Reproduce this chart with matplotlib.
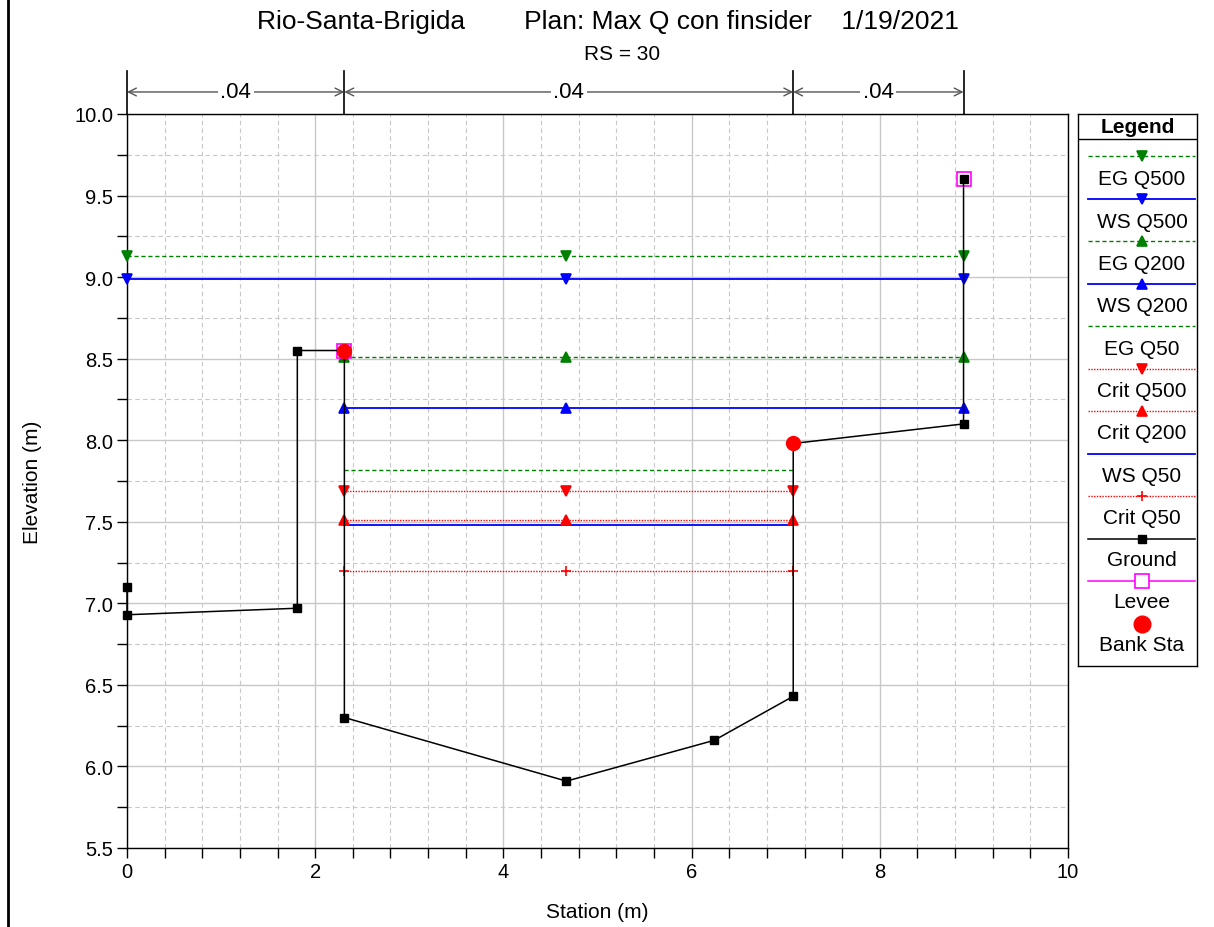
import matplotlib.pyplot as plt
import matplotlib.transforms as mtransforms
from matplotlib.lines import Line2D
from matplotlib.ticker import MultipleLocator, FormatStrFormatter

plt.rcParams['font.family'] = ['Liberation Sans', 'DejaVu Sans']

# ground profile
ground_x = [0, 0, 1.81, 1.81, 2.31, 2.31, 4.67, 6.24, 7.08, 7.08, 8.89, 8.89]
ground_y = [7.10, 6.93, 6.97, 8.55, 8.55, 6.30, 5.91, 6.16, 6.43, 7.98, 8.10, 9.60]

levee_x = [2.31, 8.89]
levee_y = [8.55, 9.60]

bank_x = [2.31, 7.08]
bank_y = [8.55, 7.98]

# water surface / energy grade profiles
prof_names = ["EG Q500", "WS Q500", "EG Q200", "WS Q200", "EG Q50",
              "Crit Q500", "Crit Q200", "WS Q50", "Crit Q50"]
prof_elev = [9.13, 8.99, 8.51, 8.20, 7.82, 7.69, 7.51, 7.48, 7.20]
prof_left = [0, 0, 2.31, 2.31, 2.31, 2.31, 2.31, 2.31, 2.31]
prof_right = [8.89, 8.89, 8.89, 8.89, 7.08, 7.08, 7.08, 7.08, 7.08]
prof_mid = 4.67

# manning n
n_breaks = [0, 2.31, 7.08, 8.89]
n_values = [".04", ".04", ".04"]

styles = {
    "EG Q500": dict(color="green", ls=(0, (3, 2)), lw=1.0, marker="v"),
    "WS Q500": dict(color="blue", ls="-", lw=1.3, marker="v"),
    "EG Q200": dict(color="green", ls=(0, (3, 2)), lw=1.0, marker="^"),
    "WS Q200": dict(color="blue", ls="-", lw=1.3, marker="^"),
    "EG Q50": dict(color="green", ls=(0, (3, 2)), lw=1.0, marker=None),
    "Crit Q500": dict(color="red", ls=(0, (1, 1)), lw=1.0, marker="v"),
    "Crit Q200": dict(color="red", ls=(0, (1, 1)), lw=1.0, marker="^"),
    "WS Q50": dict(color="blue", ls="-", lw=1.3, marker=None),
    "Crit Q50": dict(color="red", ls=(0, (1, 1)), lw=1.0, marker="+"),
}

fig = plt.figure(figsize=(12.14, 9.28), dpi=100)
ax = fig.add_axes([127 / 1214, 1 - 849 / 928, 941 / 1214, 734 / 928])

ax.set_xlim(0, 10)
ax.set_ylim(5.5, 10.0)
ax.xaxis.set_major_locator(MultipleLocator(2))
ax.xaxis.set_minor_locator(MultipleLocator(0.4))
ax.yaxis.set_major_locator(MultipleLocator(0.5))
ax.yaxis.set_minor_locator(MultipleLocator(0.25))
ax.yaxis.set_major_formatter(FormatStrFormatter("%.1f"))
ax.grid(which="major", color="#c8c8c8", lw=1.0, ls="-")
ax.grid(which="minor", color="#c8c8c8", lw=0.8, ls=(0, (4, 3)))
ax.set_axisbelow(True)
ax.tick_params(which="major", direction="out", length=7, labelsize=14.5, width=1, pad=3)
ax.tick_params(which="minor", direction="out", length=7, width=1)
for s in ax.spines.values():
    s.set_linewidth(1.0)

for name, elev, x0, x1 in zip(prof_names, prof_elev, prof_left, prof_right):
    st = styles[name]
    ax.plot([x0, x1], [elev, elev], color=st["color"], ls=st["ls"], lw=st["lw"], zorder=3)
    if st["marker"]:
        ax.plot([x0, prof_mid, x1], [elev] * 3, ls="none", marker=st["marker"],
                color=st["color"], ms=7, mew=1.2, zorder=4, clip_on=False)

ax.plot(ground_x, ground_y, color="black", lw=1.1, marker="s", ms=6, zorder=5, clip_on=False)
ax.plot(levee_x, levee_y, ls="none", marker="s", ms=10, mfc="none", mec="magenta", mew=1.2, zorder=4)
ax.plot(bank_x, bank_y, ls="none", marker="o", ms=10, color="red", zorder=6)

ax.set_xlabel("Station (m)", fontsize=15, va="center")
ax.set_ylabel("Elevation (m)", fontsize=15, va="center")
ax.xaxis.set_label_coords(0.5, (849 - 913) / 734)
ax.yaxis.set_label_coords((32 - 127) / 941, 0.5)

# manning n annotations above the plot
trans = mtransforms.blended_transform_factory(ax.transData, ax.transAxes)
for xb in n_breaks:
    ax.plot([xb, xb], [1.0, 1.0586], transform=trans, color="black", lw=1.2, clip_on=False)
for i, val in enumerate(n_values):
    a, b = n_breaks[i], n_breaks[i + 1]
    ax.annotate("", xy=(a, 1.030), xytext=(b, 1.030), xycoords=trans, textcoords=trans,
                arrowprops=dict(arrowstyle="<->", color="#555555", lw=1.0,
                                shrinkA=0, shrinkB=0, mutation_scale=14))
    ax.text((a + b) / 2, 1.030, val, transform=trans, ha="center", va="center",
            fontsize=16, bbox=dict(fc="white", ec="none", pad=2))

fig.text(608 / 1214, 1 - 22 / 928,
         "Rio-Santa-Brigida        Plan: Max Q con finsider    1/19/2021",
         ha="center", va="center", fontsize=19)
fig.text(622 / 1214, 1 - 55 / 928, "RS = 30", ha="center", va="center", fontsize=15)

# left border line
fig.add_artist(Line2D([8 / 1214, 8 / 1214], [0, 1], color="black", lw=2))

# legend box
lax = fig.add_axes([1078 / 1214, 1 - 667 / 928, 119 / 1214, 552 / 928])
lax.set_xlim(0, 119)
lax.set_ylim(552, 0)
lax.set_xticks([])
lax.set_yticks([])
for s in lax.spines.values():
    s.set_linewidth(1.0)
lax.text(59.5, 12.5, "Legend", ha="center", va="center", fontsize=15, fontweight="bold")
lax.plot([0, 119], [25, 25], color="black", lw=1.0)

leg_items = prof_names + ["Ground", "Levee", "Bank Sta"]
for i, name in enumerate(leg_items):
    ly = 42 + 42.5 * i
    ty = 65 + 42.3 * i
    if name in styles:
        st = styles[name]
        lax.plot([10, 117], [ly, ly], color=st["color"], ls=st["ls"], lw=st["lw"])
        if st["marker"]:
            lax.plot([64], [ly], marker=st["marker"], color=st["color"], ms=7, mew=1.2)
    elif name == "Ground":
        lax.plot([10, 117], [ly, ly], color="black", lw=1.1)
        lax.plot([64], [ly], marker="s", color="black", ms=6)
    elif name == "Levee":
        lax.plot([10, 117], [ly, ly], color="magenta", lw=1.1)
        lax.plot([64], [ly], marker="s", ms=10, mfc="white", mec="magenta", mew=1.2)
    else:
        lax.plot([64], [ly], marker="o", color="red", ms=12)
    lax.text(64, ty, name, ha="center", va="center", fontsize=15)

fig.savefig("out.png", dpi=100)
